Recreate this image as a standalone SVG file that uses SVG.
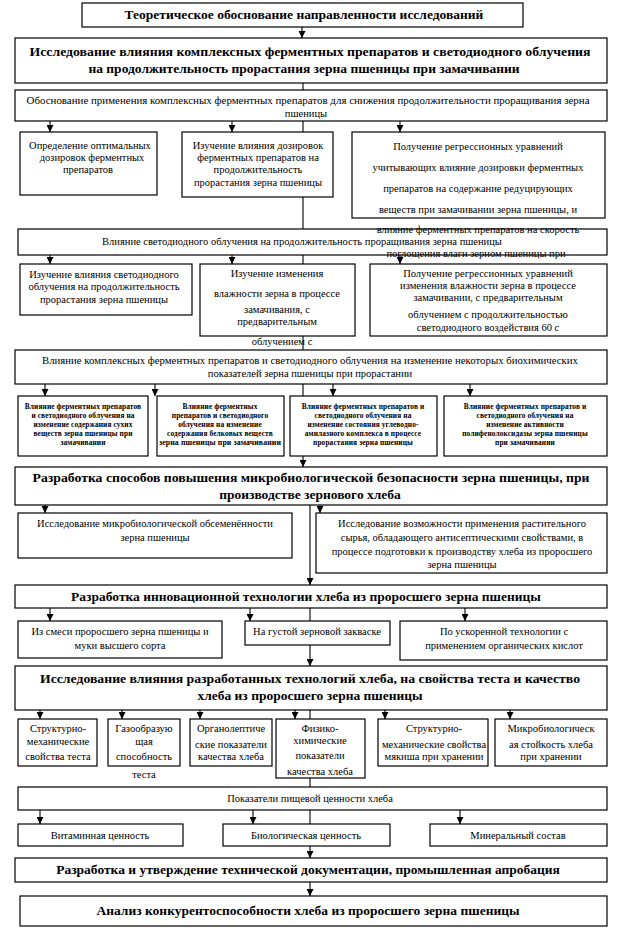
<svg xmlns="http://www.w3.org/2000/svg" width="617" height="933" viewBox="0 0 617 933">
<style>
text{font-family:"Liberation Serif","Times New Roman",serif;fill:#000;text-anchor:middle}
.n{font-size:10.5px}
.b{font-size:13.5px;font-weight:bold}
.s{font-size:7.4px;font-weight:bold;letter-spacing:0.1px}
rect{fill:#fff;stroke:#000;stroke-width:1.2}
line{stroke:#000;stroke-width:1.1}
.a{marker-end:url(#ah)}
</style>
<defs>
<marker id="ah" viewBox="0 0 10 10" refX="10" refY="5" markerWidth="7" markerHeight="7" markerUnits="userSpaceOnUse" orient="auto">
<path d="M0,0 L10,5 L0,10 z" fill="#000"/>
</marker>
</defs>
<rect width="617" height="933" style="fill:#fff;stroke:none"/>
<g id="connectors">
<line x1="302" y1="27" x2="302" y2="38" class="a"/>
<line x1="303" y1="83" x2="303" y2="229"/>
<line x1="50" y1="121" x2="50" y2="132" class="a"/>
<line x1="232" y1="121" x2="232" y2="132" class="a"/>
<line x1="400" y1="121" x2="400" y2="132" class="a"/>
<line x1="303" y1="255" x2="303" y2="396"/>
<line x1="50" y1="255" x2="50" y2="264" class="a"/>
<line x1="232" y1="255" x2="232" y2="264" class="a"/>
<line x1="400" y1="255" x2="400" y2="264" class="a"/>
<line x1="45" y1="384" x2="45" y2="396" class="a"/>
<line x1="155" y1="384" x2="155" y2="396" class="a"/>
<line x1="333" y1="384" x2="333" y2="396" class="a"/>
<line x1="470" y1="384" x2="470" y2="396" class="a"/>
<line x1="303" y1="456" x2="303" y2="467" class="a"/>
<line x1="45" y1="505" x2="45" y2="513" class="a"/>
<line x1="320" y1="505" x2="320" y2="513" class="a"/>
<line x1="310" y1="505" x2="310" y2="585" class="a"/>
<line x1="50" y1="608" x2="50" y2="621" class="a"/>
<line x1="250" y1="608" x2="250" y2="621" class="a"/>
<line x1="465" y1="608" x2="465" y2="621" class="a"/>
<line x1="310" y1="608" x2="310" y2="666" class="a"/>
<line x1="40" y1="710" x2="40" y2="719" class="a"/>
<line x1="122" y1="710" x2="122" y2="719" class="a"/>
<line x1="200" y1="710" x2="200" y2="719" class="a"/>
<line x1="295" y1="710" x2="295" y2="719" class="a"/>
<line x1="385" y1="710" x2="385" y2="719" class="a"/>
<line x1="510" y1="710" x2="510" y2="719" class="a"/>
<line x1="310" y1="710" x2="310" y2="787"/>
<line x1="40" y1="810" x2="40" y2="824" class="a"/>
<line x1="253" y1="810" x2="253" y2="824" class="a"/>
<line x1="460" y1="810" x2="460" y2="824" class="a"/>
<line x1="310" y1="810" x2="310" y2="824"/>
<line x1="310" y1="846" x2="310" y2="858" class="a"/>
<line x1="310" y1="882" x2="310" y2="896" class="a"/>
</g>
<g id="n1"><rect x="82" y="3" width="441" height="24"/><text class="b" x="304" y="19">Теоретическое обоснование направленности исследований</text></g>
<g id="n2"><rect x="15" y="38" width="592" height="45"/><text class="b" x="310" y="56" textLength="561" lengthAdjust="spacingAndGlyphs">Исследование влияния комплексных ферментных препаратов и светодиодного облучения</text><text class="b" x="304" y="73">на продолжительность прорастания зерна пшеницы при замачивании</text></g>
<g id="n3"><rect x="15" y="90" width="592" height="31"/><text class="n" x="308" y="104" textLength="563" lengthAdjust="spacingAndGlyphs">Обоснование применения комплексных ферментных препаратов для снижения продолжительности проращивания зерна</text><text class="n" x="306" y="117">пшеницы</text></g>
<g id="n4"><rect x="20" y="132" width="137" height="63"/><text class="n" x="90" y="149">Определение оптимальных</text><text class="n" x="92" y="161">дозировок ферментных</text><text class="n" x="88" y="173">препаратов</text></g>
<g id="n5"><rect x="182" y="132" width="151" height="65"/><text class="n" x="258" y="149">Изучение влияния дозировок</text><text class="n" x="258" y="161">ферментных препаратов на</text><text class="n" x="258" y="173">продолжительность</text><text class="n" x="258" y="186">прорастания зерна пшеницы</text></g>
<g id="n6"><rect x="352" y="132" width="253" height="86"/><text class="n" x="478" y="150">Получение регрессионных уравнений</text><text class="n" x="478" y="171">учитывающих влияние дозировки ферментных</text><text class="n" x="478" y="192">препаратов на содержание  редуцирующих</text><text class="n" x="478" y="213">веществ при замачивании зерна пшеницы, и</text></g>
<g id="n7"><rect x="18" y="229" width="589" height="26"/><text class="n" x="302" y="245">Влияние светодиодного облучения на продолжительность проращивания зерна пшеницы</text><text class="n" x="478" y="233">влияние ферментных препаратов на скорость</text><text class="n" x="476" y="257">поглощения влаги зерном пшеницы при</text></g>
<g id="n8"><rect x="20" y="264" width="172" height="51"/><text class="n" x="104" y="278">Изучение влияния светодиодного</text><text class="n" x="104" y="290">облучения на продолжительность</text><text class="n" x="104" y="303">прорастания зерна пшеницы</text></g>
<g id="n9"><rect x="200" y="264" width="155" height="72"/><text class="n" x="277" y="277">Изучение изменения</text><text class="n" x="277" y="297">влажности зерна в процессе</text><text class="n" x="277" y="313">замачивания, с</text><text class="n" x="277" y="325">предварительным</text><text class="n" x="282" y="345">облучением  с</text></g>
<g id="n10"><rect x="370" y="264" width="237" height="72"/><text class="n" x="488" y="277">Получение регрессионных уравнений</text><text class="n" x="488" y="289">изменения влажности зерна в процессе</text><text class="n" x="488" y="301">замачивании, с предварительным</text><text class="n" x="488" y="318">облучением с продолжительностью</text><text class="n" x="488" y="331">светодиодного воздействия 60 с</text></g>
<g id="n11"><rect x="15" y="350" width="592" height="34"/><text class="n" x="310" y="364" textLength="536" lengthAdjust="spacingAndGlyphs">Влияние комплексных ферментных препаратов и светодиодного облучения на изменение некоторых биохимических</text><text class="n" x="310" y="377">показателей зерна пшеницы при прорастании</text></g>
<g id="n12"><rect x="18" y="396" width="130" height="60"/><text class="s" x="83" y="409">Влияние ферментных препаратов</text><text class="s" x="83" y="418">и светодиодного облучения на</text><text class="s" x="83" y="427">изменение содержания сухих</text><text class="s" x="83" y="436">веществ зерна пшеницы при</text><text class="s" x="83" y="445">замачивании</text></g>
<g id="n13"><rect x="157" y="396" width="127" height="60"/><text class="s" x="220" y="409">Влияние ферментных</text><text class="s" x="220" y="418">препаратов и светодиодного</text><text class="s" x="220" y="427">облучения на изменение</text><text class="s" x="220" y="436">содержания белковых веществ</text><text class="s" x="220" y="445" textLength="122" lengthAdjust="spacingAndGlyphs">зерна пшеницы при замачивании</text></g>
<g id="n14"><rect x="290" y="396" width="147" height="60"/><text class="s" x="363" y="409">Влияние ферментных препаратов и</text><text class="s" x="363" y="418">светодиодного облучения на</text><text class="s" x="363" y="427">изменение состояния углеводно-</text><text class="s" x="363" y="436">амилазного комплекса в процессе</text><text class="s" x="363" y="445">прорастания зерна пшеницы</text></g>
<g id="n15"><rect x="444" y="396" width="163" height="60"/><text class="s" x="525" y="409">Влияние ферментных препаратов и</text><text class="s" x="525" y="418">светодиодного облучения на</text><text class="s" x="525" y="427">изменение активности</text><text class="s" x="525" y="436">полифенолоксидазы зерна пшеницы</text><text class="s" x="525" y="445">при замачивании</text></g>
<g id="n16"><rect x="15" y="467" width="592" height="38"/><text class="b" x="311" y="482" textLength="557" lengthAdjust="spacingAndGlyphs">Разработка способов повышения микробиологической безопасности зерна пшеницы, при</text><text class="b" x="310" y="499">производстве зернового хлеба</text></g>
<g id="n17"><rect x="18" y="513" width="274" height="45"/><text class="n" x="155" y="527">Исследование микробиологической  обсеменённости</text><text class="n" x="155" y="541">зерна пшеницы</text></g>
<g id="n18"><rect x="316" y="513" width="291" height="60"/><text class="n" x="462" y="527">Исследование возможности применения растительного</text><text class="n" x="462" y="541">сырья, обладающего антисептическими свойствами, в</text><text class="n" x="462" y="555">процессе подготовки к производству хлеба из проросшего</text><text class="n" x="462" y="568">зерна пшеницы</text></g>
<g id="n19"><rect x="15" y="585" width="592" height="23"/><text class="b" x="306" y="601">Разработка инновационной технологии  хлеба из проросшего зерна пшеницы</text></g>
<g id="n20"><rect x="18" y="621" width="204" height="37"/><text class="n" x="120" y="635">Из смеси проросшего зерна   пшеницы и</text><text class="n" x="120" y="649">муки высшего сорта</text></g>
<g id="n21"><rect x="245" y="621" width="145" height="24"/><text class="n" x="317" y="635">На густой зерновой закваске</text></g>
<g id="n22"><rect x="400" y="621" width="207" height="39"/><text class="n" x="504" y="635">По ускоренной  технологии с</text><text class="n" x="504" y="649">применением органических кислот</text></g>
<g id="n23"><rect x="15" y="666" width="592" height="44"/><text class="b" x="310" y="683" textLength="540" lengthAdjust="spacingAndGlyphs">Исследование влияния разработанных технологий хлеба, на свойства теста и качество</text><text class="b" x="310" y="700">хлеба из проросшего зерна пшеницы</text></g>
<g id="n24"><rect x="18" y="719" width="79" height="47"/><text class="n" x="58" y="732">Структурно-</text><text class="n" x="58" y="745">механические</text><text class="n" x="58" y="760">свойства теста</text></g>
<g id="n25"><rect x="108" y="719" width="72" height="47"/><text class="n" x="144" y="732">Газообразую</text><text class="n" x="144" y="745">щая</text><text class="n" x="144" y="760">способность</text><text class="n" x="144" y="778">теста</text></g>
<g id="n26"><rect x="190" y="719" width="82" height="47"/><text class="n" x="231" y="732">Органолептиче</text><text class="n" x="231" y="748">ские показатели</text><text class="n" x="231" y="760">качества хлеба</text></g>
<g id="n27"><rect x="276" y="719" width="89" height="59"/><text class="n" x="320" y="732">Физико-</text><text class="n" x="320" y="744">химические</text><text class="n" x="320" y="759">показатели</text><text class="n" x="320" y="775">качества хлеба</text></g>
<g id="n28"><rect x="378" y="719" width="110" height="47"/><text class="n" x="434" y="732">Структурно-</text><text class="n" x="434" y="748">механические свойства</text><text class="n" x="434" y="760">мякиша при хранении</text></g>
<g id="n29"><rect x="495" y="719" width="112" height="47"/><text class="n" x="551" y="732">Микробиологическ</text><text class="n" x="551" y="748">ая стойкость хлеба</text><text class="n" x="551" y="760">при хранении</text></g>
<g id="n30"><rect x="18" y="787" width="589" height="23"/><text class="n" x="310" y="802">Показатели пищевой ценности хлеба</text></g>
<g id="n31"><rect x="18" y="824" width="165" height="22"/><text class="n" x="100" y="839">Витаминная ценность</text></g>
<g id="n32"><rect x="223" y="824" width="167" height="22"/><text class="n" x="306" y="839">Биологическая ценность</text></g>
<g id="n33"><rect x="430" y="824" width="177" height="22"/><text class="n" x="518" y="839">Минеральный состав</text></g>
<g id="n34"><rect x="15" y="858" width="592" height="24"/><text class="b" x="308" y="874">Разработка и утверждение технической документации, промышленная  апробация</text></g>
<g id="n35"><rect x="20" y="896" width="587" height="30"/><text class="b" x="308" y="915">Анализ конкурентоспособности хлеба из проросшего зерна пшеницы</text></g>
</svg>
